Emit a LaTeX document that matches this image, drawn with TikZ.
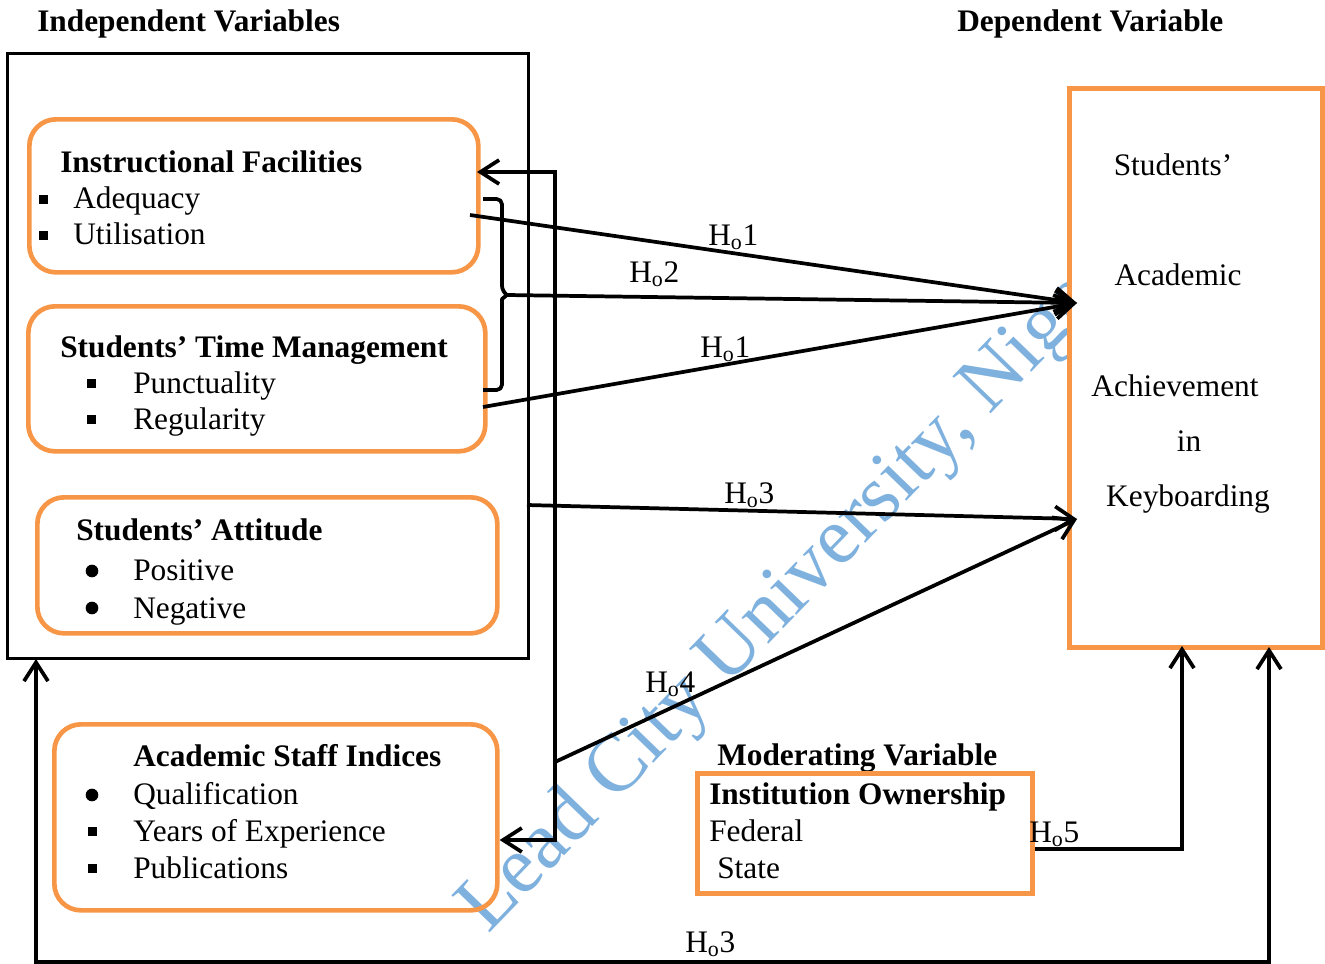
\documentclass[tikz,border=0pt]{standalone}
\usepackage{fontspec}
\setmainfont{Liberation Serif}
\usetikzlibrary{arrows.meta}
\definecolor{orng}{HTML}{F79646}
\definecolor{wmblue}{HTML}{7FB1DF}
\begin{document}
\begin{tikzpicture}[x=0.75pt,y=-0.75pt,
  font=\fontsize{23.5}{28}\selectfont,
  obox/.style={draw=orng, line width=3.5pt, rounded corners=20pt, anchor=north west, inner sep=0pt},
  sbox/.style={draw=orng, line width=3.5pt, anchor=north west, inner sep=0pt},
  kbox/.style={draw=black, line width=2.6pt, anchor=north west, inner sep=0pt},
  txt/.style={anchor=base west, inner sep=0pt},
  ctxt/.style={anchor=base, inner sep=0pt},
  bold/.style={txt, font=\fontsize{23.5}{28}\selectfont\bfseries},
  conn/.style={line width=2.8pt},
  arr/.style={conn, -{Straight Barb[length=14pt,width=18pt]}},
  darr/.style={conn, {Straight Barb[length=14pt,width=18pt]}-{Straight Barb[length=14pt,width=18pt]}},
  sqbul/.style={fill=black, minimum size=6.75pt, inner sep=0pt},
  rdbul/.style={circle, fill=black, minimum size=9.5pt, inner sep=0pt},
  wm/.style={anchor=base west, rotate=46, text=wmblue, font=\fontsize{61}{72}\selectfont, inner sep=0pt},
]
\clip (0,0) rectangle (1325,964);
% watermark
\node[wm] (wmark) at (488,935) {Lead City University, Nigeria};

% titles
\node[bold] (tiv) at (37,31) {Independent Variables};
\node[bold] (tdv) at (957,31) {Dependent Variable};

% big independent box
\node[kbox, minimum width=390.75pt, minimum height=453.75pt] (iv) at (6,52) {};

% box 1
\node[obox, minimum width=336.75pt, minimum height=114.75pt] (b1) at (27,117) {};
\node[bold] (b1t) at (60,172) {Instructional Facilities};
\node[sqbul] (b1s1) at (43,199) {};
\node[txt] (b1a) at (73,208) {Adequacy};
\node[sqbul] (b1s2) at (43,235) {};
\node[txt] (b1b) at (73,244) {Utilisation};

% box 2
\node[obox, minimum width=342.75pt, minimum height=108.75pt] (b2) at (26,304) {};
\node[bold] (b2t) at (60,357) {Students’ Time Management};
\node[sqbul] (b2s1) at (91,383) {};
\node[txt] (b2a) at (133,393) {Punctuality};
\node[sqbul] (b2s2) at (91,419) {};
\node[txt] (b2b) at (133,429) {Regularity};

% box 3
\node[obox, minimum width=345pt, minimum height=102pt] (b3) at (35,495) {};
\node[bold] (b3t) at (76,540) {Students’ Attitude};
\node[rdbul] (b3s1) at (92,571) {};
\node[txt] (b3a) at (133,580) {Positive};
\node[rdbul] (b3s2) at (92,608) {};
\node[txt] (b3b) at (133,618) {Negative};

% box 4
\node[obox, minimum width=332.25pt, minimum height=139.5pt] (b4) at (52,722) {};
\node[bold] (b4t) at (133,766) {Academic Staff Indices};
\node[rdbul] (b4s1) at (92,795) {};
\node[txt] (b4a) at (133,804) {Qualification};
\node[sqbul] (b4s2) at (92,831) {};
\node[txt] (b4b) at (133,841) {Years of Experience};
\node[sqbul] (b4s3) at (92,868) {};
\node[txt] (b4c) at (133,878) {Publications};

% dependent box
\node[sbox, fill=white, minimum width=189.75pt, minimum height=419.25pt] (dv) at (1067,86) {};
\node[ctxt] (dv1) at (1173,175) {Students’};
\node[ctxt] (dv2) at (1178,285) {Academic};
\node[ctxt] (dv3) at (1175,396) {Achievement};
\node[ctxt] (dv4) at (1189,451) {in};
\node[ctxt] (dv5) at (1188,506) {Keyboarding};

% moderating
\node[bold] (tmod) at (717,765) {Moderating Variable};
\node[sbox, minimum width=251.25pt, minimum height=90pt] (mod) at (695,771) {};
\node[bold] (mod1) at (709,804) {Institution Ownership};
\node[txt] (mod2) at (709,841) {Federal};
\node[txt] (mod3) at (717,878) {State};

% connector points
\coordinate (p1) at (1077,303);
\coordinate (p2) at (1077,519);
\coordinate (b1out) at (470,215);
\coordinate (btip) at (507,295);
\coordinate (b2out) at (483,407);
\coordinate (ivout) at (527,505);
\coordinate (vjoin) at (555,762);

% brace
\draw[conn, line join=round] (483,199) [rounded corners=4pt]-- (502,199) -- (502,291) [sharp corners]-- (btip) -- (502,299) [rounded corners=4pt]-- (502,390) -- (483,390);

\draw[arr] (b1out) -- (p1);
\draw[arr] (btip) -- (p1);
\draw[arr] (b2out) -- (p1);
\draw[arr] (ivout) -- (p2);
\draw[arr] (vjoin) -- (p2);
\draw[darr] (477,172) -- (555,172) -- (555,840) -- (b4.east |- 0,840);
\draw[arr] (mod.east |- 0,849) -- (1182,849) -- (1182,646);
\draw[darr] (1269,647) -- (1269,962) -- (36,962) -- (36,659);

% labels
\node[txt] (h1) at (708,245) {H\textsubscript{o}1};
\node[txt] (h2) at (629,282) {H\textsubscript{o}2};
\node[txt] (h1b) at (700,357) {H\textsubscript{o}1};
\node[txt] (h3) at (724,503) {H\textsubscript{o}3};
\node[txt] (h4) at (645,692) {H\textsubscript{o}4};
\node[txt] (h5) at (1029,842) {H\textsubscript{o}5};
\node[txt] (h3b) at (685,952) {H\textsubscript{o}3};
\end{tikzpicture}
\end{document}
